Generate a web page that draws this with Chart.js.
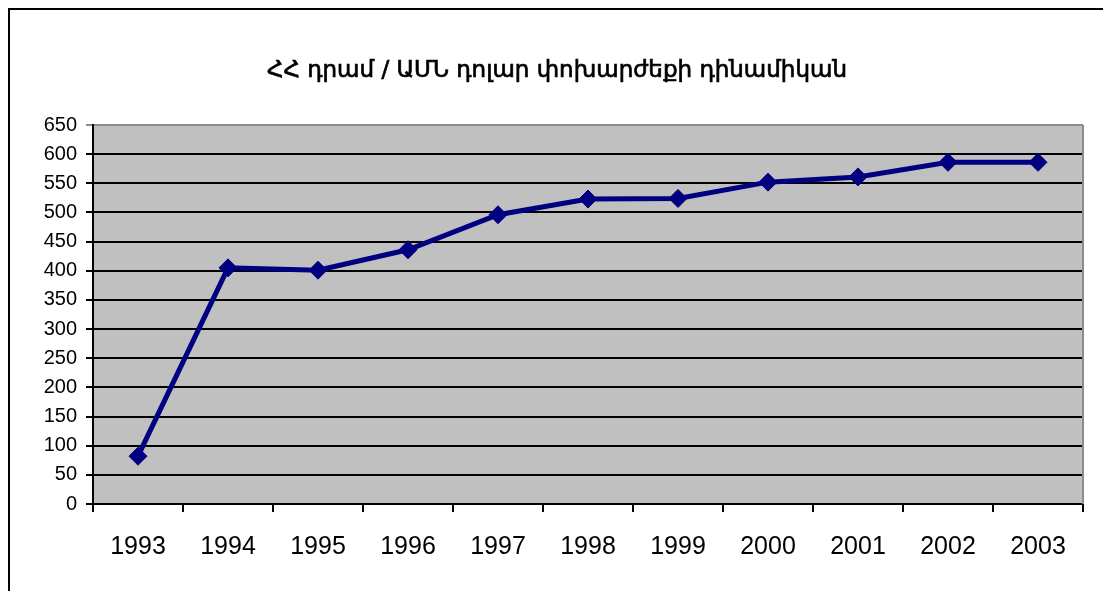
<!DOCTYPE html>
<html lang="hy">
<head>
<meta charset="UTF-8">
<title>ՀՀ դրամ / ԱՄՆ դոլար</title>
<style>
  html, body { margin: 0; padding: 0; background: #fff; overflow: hidden; }
  canvas { display: block; }
</style>
</head>
<body>
<canvas id="graficoKurs" width="1103" height="591"></canvas>
<script src="https://cdn.jsdelivr.net/npm/chart.js"></script>
<script>
  // dram / dollar exchange rate, yearly
  const titulo = 'ՀՀ դրամ / ԱՄՆ դոլար փոխարժեքի դինամիկան';
  const anos = ['1993', '1994', '1995', '1996', '1997', '1998', '1999', '2000', '2001', '2002', '2003'];
  const kurs = [82, 405, 401, 436, 496, 523, 524, 552, 561, 586, 586];
  const yMin = 0;
  const yMax = 650;
  const yPasso = 50;

  // gray plot background, outer frame (only left/top edges fall inside the page) and title
  const fundo = {
    id: 'fundo',
    beforeDraw(chart) {
      const { ctx, chartArea: a } = chart;
      ctx.save();
      ctx.fillStyle = '#fff';
      ctx.fillRect(0, 0, chart.width, chart.height);
      ctx.fillStyle = '#c0c0c0';
      ctx.fillRect(a.left, a.top, a.right - a.left, a.bottom - a.top);
      ctx.strokeStyle = '#000';
      ctx.lineWidth = 2;
      ctx.beginPath();
      ctx.moveTo(9, chart.height + 2);
      ctx.lineTo(9, 9);
      ctx.lineTo(chart.width + 2, 9);
      ctx.stroke();

      ctx.fillStyle = '#000';
      ctx.strokeStyle = '#000';
      ctx.lineWidth = 0.7;
      ctx.font = '23px "DejaVu Sans"';
      ctx.textAlign = 'center';
      ctx.textBaseline = 'middle';
      ctx.fillText(titulo, 557, 71);
      ctx.strokeText(titulo, 557, 71);
      ctx.restore();
    },
    beforeDatasetsDraw(chart) {
      const { ctx, chartArea: a } = chart;
      ctx.save();
      ctx.strokeStyle = '#8c8c8c';
      ctx.lineWidth = 2;
      ctx.beginPath();
      ctx.moveTo(a.right, a.top);
      ctx.lineTo(a.right, a.bottom);
      ctx.stroke();
      ctx.restore();
    }
  };

  const ctx = document.getElementById('graficoKurs');

  new Chart(ctx, {
    type: 'line',
    data: {
      labels: anos,
      datasets: [{
        data: kurs,
        borderColor: '#000080',
        backgroundColor: '#000080',
        borderWidth: 5,
        pointStyle: 'rectRot',
        pointRadius: 9,
        pointHoverRadius: 9,
        pointBorderWidth: 1,
        fill: false,
        tension: 0
      }]
    },
    options: {
      responsive: false,
      animation: false,
      layout: { padding: { left: 0, right: 20, top: 125, bottom: 0 } },
      plugins: {
        legend: { display: false },
        tooltip: { enabled: false },
        title: { display: false }
      },
      scales: {
        x: {
          offset: true,
          grid: {
            offset: true,
            drawOnChartArea: false,
            drawTicks: true,
            tickLength: 8,
            color: '#000',
            lineWidth: 2
          },
          border: { color: '#000', width: 2 },
          ticks: {
            color: '#000',
            padding: 20,
            maxRotation: 0,
            font: { family: 'Liberation Sans', size: 25 }
          },
          afterFit(scale) { scale.height = 87; }
        },
        y: {
          min: yMin,
          max: yMax,
          grid: {
            color: c => (c.tick && c.tick.value === yMax) ? '#8c8c8c' : '#000',
            lineWidth: 2,
            drawTicks: true,
            tickLength: 7
          },
          border: { color: '#000', width: 2 },
          ticks: {
            stepSize: yPasso,
            color: '#000',
            padding: 9,
            font: { family: 'Liberation Sans', size: 20 }
          },
          afterFit(scale) { scale.width = 93; }
        }
      }
    },
    plugins: [fundo]
  });
</script>
</body>
</html>
